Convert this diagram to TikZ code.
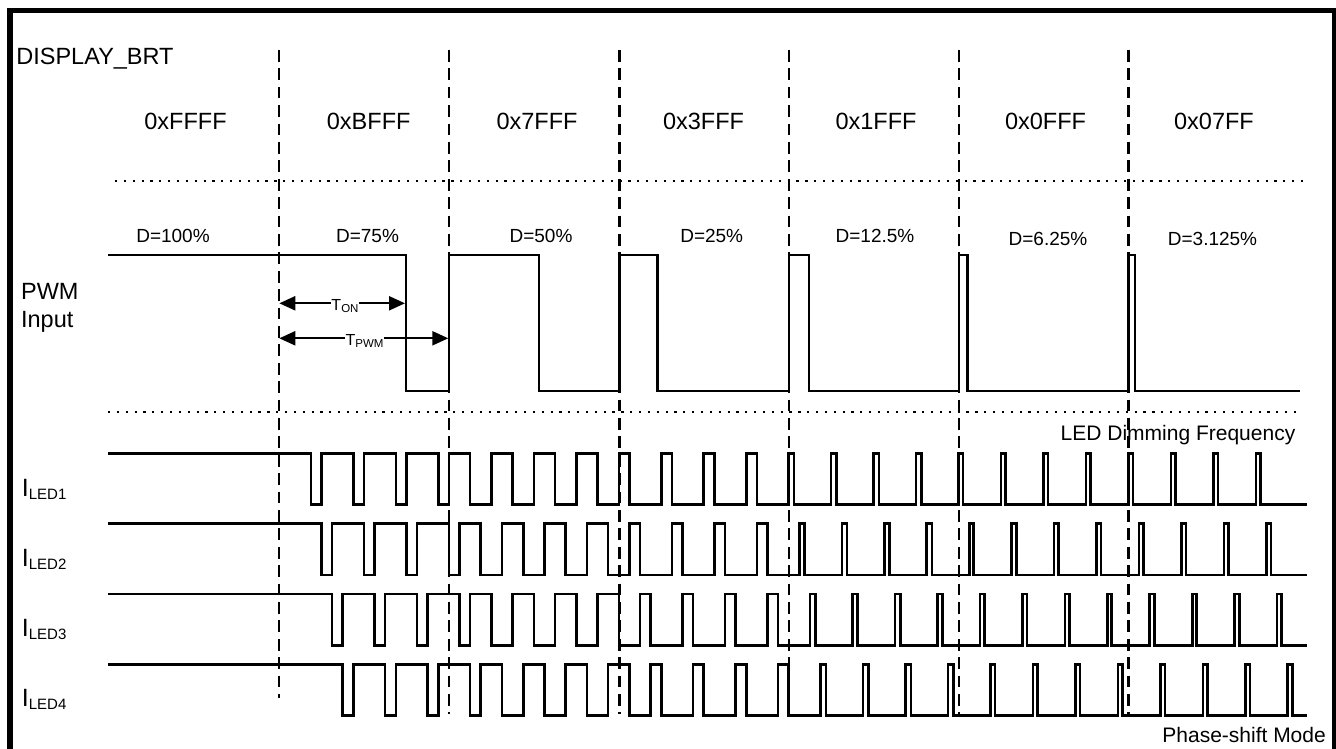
\documentclass[tikz,border=0pt]{standalone}
\usepackage{fontspec}
\setmainfont{Liberation Sans}
\usetikzlibrary{arrows.meta}
\begin{document}
\begin{tikzpicture}[x=1pt,y=-1pt,
  wave/.style={line width=2.6pt, line join=miter},
  vdash/.style={line width=2.9pt, dash pattern=on 11.7pt off 6.7pt},
  dotrow/.style={line width=2.2pt, dash pattern=on 2.2pt off 6.65pt},
  big/.style={inner sep=0pt, font=\fontsize{23.5}{23.5}\selectfont},
  dlab/.style={inner sep=0pt, anchor=base, font=\fontsize{19}{19}\selectfont},
  note/.style={inner sep=0pt, anchor=base east, font=\fontsize{21}{21}\selectfont},
  dimarrow/.style={line width=2.2pt, {Triangle[length=16pt,width=14pt]}-{Triangle[length=16pt,width=14pt]}},
  tlab/.style={fill=white, inner sep=0.6pt, anchor=base}
]
\useasboundingbox (0,0) rectangle (1336,749);
\begin{scope}
\clip (0,0) rectangle (1336,749);
\draw[line width=5.3pt] (10,10.8) rectangle (1334.6,760);
\end{scope}

% header texts
\node[big, anchor=base west] (title) at (16.2,65) {DISPLAY\_BRT};
\foreach \nm/\cx/\txt in {v0/185.5/0xFFFF, v1/368.7/0xBFFF, v2/537/0x7FFF, v3/703.5/0x3FFF, v4/876/0x1FFF, v5/1045.5/0x0FFF, v6/1214/0x07FF}
  \node[big, anchor=base] (\nm) at (\cx,129.5) {\txt};

% duty labels
\foreach \nm/\cx/\by/\txt in {d0/173/242/{D=100\%}, d1/367.5/242/{D=75\%}, d2/541/242/{D=50\%}, d3/711.7/242.7/{D=25\%}, d4/875/242.7/{D=12.5\%}, d5/1048/245/{D=6.25\%}, d6/1212.5/245/{D=3.125\%}}
  \node[dlab] (\nm) at (\cx,\by) {\txt};

% dotted separators
\draw[dotrow] (115,181) -- (1305,181);
\draw[dotrow] (108,411.7) -- (1296,411.7);

% dashed period markers
\draw[vdash] (279,50) -- (279,698);
\foreach \xx in {449,619.5,789,959,1128.5}
  \draw[vdash] (\xx,50) -- (\xx,714);

% PWM input label
\node[big, anchor=base west] (pwm) at (20.9,299) {PWM};
\node[big, anchor=base west] (inp) at (20.9,327.3) {Input};

% PWM waveform
\draw[wave] (108,255) -- (406,255) -- (406,391) -- (449,391) -- (449,255)
  -- (539,255) -- (539,391) -- (619.5,391) -- (619.5,255)
  -- (657.7,255) -- (657.7,391) -- (789,391) -- (789,255)
  -- (809,255) -- (809,391) -- (959,391) -- (959,255)
  -- (967.5,255) -- (967.5,391) -- (1128.5,391) -- (1128.5,255)
  -- (1135,255) -- (1135,391) -- (1300,391);

% T_ON / T_PWM
\coordinate (ton0) at (279.3,303.3);
\coordinate (ton1) at (405,303.3);
\coordinate (tpw0) at (279.3,338.3);
\coordinate (tpw1) at (448.3,338.3);
\draw[dimarrow] (ton0) -- (ton1);
\draw[dimarrow] (tpw0) -- (tpw1);
\node[tlab] (tonl) at (345,310.7) {\fontsize{16}{16}\selectfont T\raisebox{-1.8pt}{\fontsize{11.5}{11.5}\selectfont ON}};
\node[tlab] (tpwl) at (364.5,345) {\fontsize{16}{16}\selectfont T\raisebox{-2pt}{\fontsize{11.5}{11.5}\selectfont PWM}};

% LED labels
\foreach \i in {0,1,2,3}{
  \pgfmathsetmacro\by{496.7+70*\i}
  \pgfmathtruncatemacro\num{\i+1}
  \node[inner sep=0pt, anchor=base west] (led\num) at (21.7,\by)
    {\fontsize{25}{25}\selectfont I\raisebox{-2.6pt}{\fontsize{15}{15}\selectfont LED\num}};
}

% LED waveforms (phase shifted)
\def\Pd{42.475}
\foreach \i in {0,1,2,3}{
  \pgfmathsetmacro\yh{453.3+70.3*\i}
  \pgfmathsetmacro\yl{\yh+51.3}
  \pgfmathsetmacro\tz{279+\i*\Pd/4}
  \gdef\wavepath{}
  \foreach \k in {0,...,23}{
    \pgfmathsetmacro\sta{\tz+\k*\Pd}
    \pgfmathtruncatemacro\reg{min(5,max(0,floor((\sta-279)/169.9)))}
    \pgfmathsetmacro\dut{\reg==0 ? 0.75 : pow(0.5,\reg)}
    \pgfmathsetmacro\wid{max(4.5,\dut*\Pd)}
    \pgfmathsetmacro\xa{\sta+\wid}
    \pgfmathsetmacro\xb{\sta+\Pd}
    \ifnum\k<23
      \xdef\wavepath{\wavepath -- (\xa,\yh) -- (\xa,\yl) -- (\xb,\yl) -- (\xb,\yh)}
    \else
      \xdef\wavepath{\wavepath -- (\xa,\yh) -- (\xa,\yl) -- (1306.5,\yl)}
    \fi
  }
  \draw[wave] (108,\yh) \wavepath;
}

% notes
\node[note] (freq) at (1295.5,440) {LED Dimming Frequency};
\node[note] (mode) at (1326,742.7) {Phase-shift Mode};
\end{tikzpicture}
\end{document}
